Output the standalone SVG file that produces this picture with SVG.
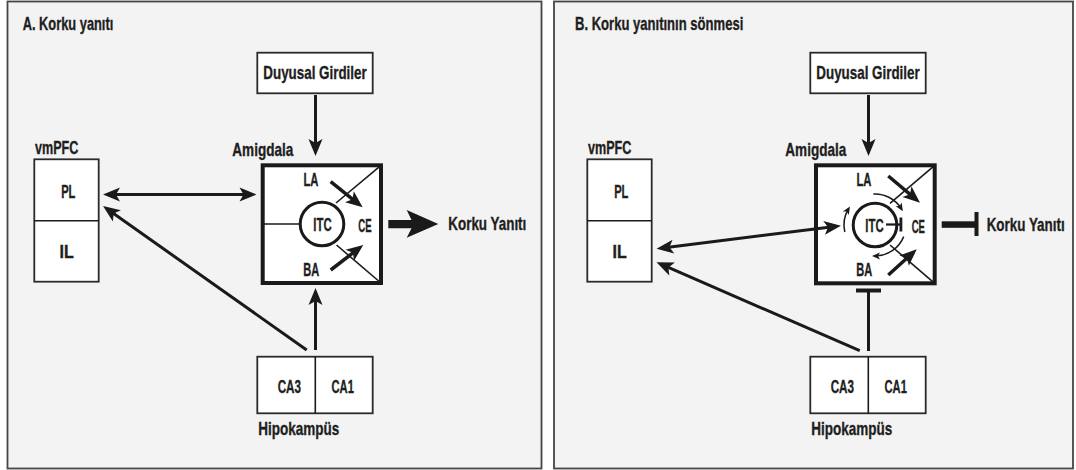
<svg xmlns="http://www.w3.org/2000/svg" width="1076" height="470" viewBox="0 0 1076 470">
  <style>
    .panel { fill: #f3f3f3; stroke: #454545; stroke-width: 1.8; }
    .box { fill: #ffffff; stroke: #2a2a2a; stroke-width: 1.8; }
    .amy { fill: #ffffff; stroke: #1a1a1a; stroke-width: 4; }
    .thin { fill: none; stroke: #1a1a1a; stroke-width: 1.6; }
    .itc { fill: #ffffff; stroke: #1a1a1a; stroke-width: 3; }
    .con { fill: none; stroke: #1a1a1a; stroke-width: 3; }
    .conT { fill: none; stroke: #1a1a1a; stroke-width: 3.5; }
    .arc { fill: none; stroke: #1a1a1a; stroke-width: 1.5; }
    .solid { fill: #1a1a1a; stroke: none; }
    text { font-family: "Liberation Sans Narrow", "Liberation Sans", "DejaVu Sans Condensed", sans-serif; font-weight: bold; font-size: 18.5px; fill: #1e1e1e; stroke: #1e1e1e; stroke-width: 0.35; }
    .mid { text-anchor: middle; }
  </style>
  <defs>
    <marker id="head" markerUnits="userSpaceOnUse" orient="auto-start-reverse" overflow="visible" markerWidth="1" markerHeight="1" refX="0" refY="0">
      <path d="M6,0 L-11,-7 L-7,0 L-11,7 Z" fill="#1a1a1a"/>
    </marker>
    <marker id="small" markerUnits="userSpaceOnUse" orient="auto" overflow="visible" markerWidth="1" markerHeight="1" refX="0" refY="0">
      <path d="M3,0 L-5,-3.5 L-3,0 L-5,3.5 Z" fill="#1a1a1a"/>
    </marker>
  </defs>

  <!-- panel frames -->
  <rect class="panel" x="7.5" y="1.5" width="534" height="467"/>
  <rect class="panel" x="554" y="1.5" width="519" height="467"/>
  <text x="22.7" y="29.5" textLength="90.6" lengthAdjust="spacingAndGlyphs">A. Korku yanıtı</text>
  <text x="575" y="29.5" textLength="168.3" lengthAdjust="spacingAndGlyphs">B. Korku yanıtının sönmesi</text>

  <!-- ===== Panel A ===== -->
  <g id="a-duyusal">
    <rect class="box" x="257.3" y="52.7" width="115.4" height="40.6"/>
    <text class="mid" x="315" y="79" textLength="103.4" lengthAdjust="spacingAndGlyphs">Duyusal Girdiler</text>
  </g>
  <g id="a-vmpfc">
    <text x="35" y="153.5" textLength="43.3" lengthAdjust="spacingAndGlyphs">vmPFC</text>
    <rect class="box" x="34.3" y="159.3" width="64.4" height="122.4"/>
    <line class="thin" x1="34.3" y1="220.7" x2="98.7" y2="220.7"/>
    <text class="mid" x="68.3" y="197.5" textLength="14.3" lengthAdjust="spacingAndGlyphs">PL</text>
    <text class="mid" x="66.7" y="258" textLength="14.3" lengthAdjust="spacingAndGlyphs">IL</text>
  </g>
  <g id="a-amigdala">
    <text x="232.3" y="156" textLength="61" lengthAdjust="spacingAndGlyphs">Amigdala</text>
    <rect class="amy" x="262.7" y="165.3" width="118.3" height="117.7"/>
    <line class="thin" x1="262.7" y1="224" x2="300" y2="224"/>
    <line class="thin" x1="381" y1="165.3" x2="336" y2="203"/>
    <line class="thin" x1="336.5" y1="245" x2="381" y2="283"/>
    <circle class="itc" cx="322" cy="224" r="21.8"/>
    <text class="mid" x="311" y="185.5" textLength="15" lengthAdjust="spacingAndGlyphs">LA</text>
    <text class="mid" x="311.3" y="275.5" textLength="16" lengthAdjust="spacingAndGlyphs">BA</text>
    <text class="mid" x="365" y="232" textLength="13.3" lengthAdjust="spacingAndGlyphs">CE</text>
    <text class="mid" x="322.5" y="230.5" textLength="18.3" lengthAdjust="spacingAndGlyphs">ITC</text>
  </g>
  <g id="a-korku">
    <text x="448.3" y="230" textLength="78" lengthAdjust="spacingAndGlyphs">Korku Yanıtı</text>
  </g>
  <g id="a-hipokampus">
    <rect class="box" x="257.3" y="356.7" width="115.4" height="56.6"/>
    <line class="thin" x1="315.3" y1="356.7" x2="315.3" y2="413.3"/>
    <text class="mid" x="289.3" y="392.5" textLength="23.3" lengthAdjust="spacingAndGlyphs">CA3</text>
    <text class="mid" x="342.7" y="392.5" textLength="22.3" lengthAdjust="spacingAndGlyphs">CA1</text>
    <text x="258.3" y="435" textLength="81" lengthAdjust="spacingAndGlyphs">Hipokampüs</text>
  </g>

  <g id="a-connectors">
    <line class="con" x1="315.5" y1="95" x2="315.5" y2="150" marker-end="url(#head)"/>
    <line class="con" x1="109" y1="194.5" x2="250.5" y2="194.5" marker-start="url(#head)" marker-end="url(#head)"/>
    <line class="con" x1="306.7" y1="350" x2="107.9" y2="209.5" marker-end="url(#head)"/>
    <line class="con" x1="315.5" y1="350" x2="315.5" y2="294" marker-end="url(#head)"/>
    <line class="conT" x1="330.7" y1="181.7" x2="358" y2="203.6" marker-end="url(#head)"/>
    <line class="conT" x1="330.7" y1="270" x2="358.5" y2="248.6" marker-end="url(#head)"/>
    <polygon class="solid" points="388.3,220 411.5,220 406.7,210 438.3,224 406.7,237.8 411.5,228.3 388.3,228.3"/>
  </g>

  <!-- ===== Panel B ===== -->
  <g id="b-duyusal">
    <rect class="box" x="810.3" y="52.7" width="115.4" height="40.6"/>
    <text class="mid" x="868" y="79" textLength="103.4" lengthAdjust="spacingAndGlyphs">Duyusal Girdiler</text>
  </g>
  <g id="b-vmpfc">
    <text x="588" y="153.5" textLength="43.3" lengthAdjust="spacingAndGlyphs">vmPFC</text>
    <rect class="box" x="587.3" y="159.3" width="64.4" height="122.4"/>
    <line class="thin" x1="587.3" y1="220.7" x2="651.7" y2="220.7"/>
    <text class="mid" x="621.3" y="197.5" textLength="14.3" lengthAdjust="spacingAndGlyphs">PL</text>
    <text class="mid" x="619.7" y="258" textLength="14.3" lengthAdjust="spacingAndGlyphs">IL</text>
  </g>
  <g id="b-amigdala">
    <text x="785.3" y="156" textLength="61" lengthAdjust="spacingAndGlyphs">Amigdala</text>
    <rect class="amy" x="816" y="165.3" width="118.7" height="118"/>
    <line class="thin" x1="934.7" y1="165.3" x2="890" y2="203.3"/>
    <line class="thin" x1="890" y1="245" x2="934.7" y2="283.3"/>
    <circle class="itc" cx="875" cy="225" r="21.8"/>
    <text class="mid" x="864" y="185.5" textLength="15" lengthAdjust="spacingAndGlyphs">LA</text>
    <text class="mid" x="864.3" y="275.5" textLength="16" lengthAdjust="spacingAndGlyphs">BA</text>
    <text class="mid" x="918.3" y="232.5" textLength="13.3" lengthAdjust="spacingAndGlyphs">CE</text>
    <text class="mid" x="874.5" y="231.5" textLength="18.3" lengthAdjust="spacingAndGlyphs">ITC</text>
    <!-- recurrent loops around ITC -->
    <path class="arc" d="M844.8,232 A31,31 0 0 1 848.4,209" marker-end="url(#small)"/>
    <path class="arc" d="M873.3,194 A31,31 0 0 1 901.3,208.6" marker-end="url(#small)"/>
    <path class="arc" d="M903.7,236.6 A31,31 0 0 1 875,256" marker-end="url(#small)"/>
    <!-- ITC inhibits CE -->
    <line x1="886" y1="224.5" x2="901" y2="224.5" stroke="#1a1a1a" stroke-width="2.2"/>
    <rect class="solid" x="899.5" y="217.5" width="2.8" height="14"/>
  </g>
  <g id="b-korku">
    <text x="986.7" y="230.5" textLength="78" lengthAdjust="spacingAndGlyphs">Korku Yanıtı</text>
  </g>
  <g id="b-hipokampus">
    <rect class="box" x="810.3" y="356.7" width="115.4" height="56.6"/>
    <line class="thin" x1="868.3" y1="356.7" x2="868.3" y2="413.3"/>
    <text class="mid" x="842.3" y="392.5" textLength="23.3" lengthAdjust="spacingAndGlyphs">CA3</text>
    <text class="mid" x="895.7" y="392.5" textLength="22.3" lengthAdjust="spacingAndGlyphs">CA1</text>
    <text x="811.3" y="435" textLength="81" lengthAdjust="spacingAndGlyphs">Hipokampüs</text>
  </g>

  <g id="b-connectors">
    <line class="con" x1="868.5" y1="95" x2="868.5" y2="150" marker-end="url(#head)"/>
    <line class="con" x1="662.5" y1="248" x2="835" y2="226.5" marker-start="url(#head)" marker-end="url(#head)"/>
    <line class="con" x1="859.7" y1="350.7" x2="662" y2="264.6" marker-end="url(#head)"/>
    <line class="con" x1="868.5" y1="351" x2="868.5" y2="291"/>
    <rect class="solid" x="856" y="288.5" width="25" height="4"/>
    <line class="conT" x1="888.3" y1="176" x2="915.4" y2="198.8" marker-end="url(#head)"/>
    <line class="conT" x1="888.3" y1="275" x2="912.3" y2="253.3" marker-end="url(#head)"/>
    <rect class="solid" x="941.7" y="221.3" width="34" height="6.5"/>
    <rect class="solid" x="974.5" y="212" width="4" height="24"/>
  </g>
</svg>
